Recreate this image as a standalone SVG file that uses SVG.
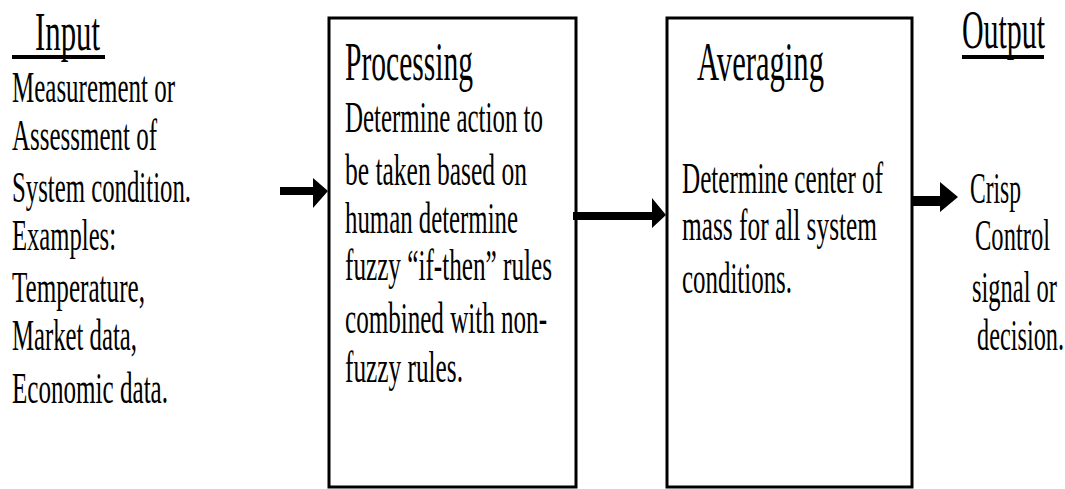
<svg xmlns="http://www.w3.org/2000/svg" width="1065" height="489" viewBox="0 0 1065 489">
<style>
text{font-family:"Liberation Serif","Times New Roman",serif;fill:#000}
.h{font-size:54px}
.b{font-size:44px}
.box{fill:none;stroke:#000;stroke-width:3}
.ul{stroke:#000;stroke-width:4}
.conn{fill:#000;stroke:none}
</style>
<rect width="1065" height="489" fill="#fff"/>
<g id="input">
<text class="h" x="35" y="50" textLength="65" lengthAdjust="spacingAndGlyphs">Input</text>
<line class="ul" x1="12" y1="57" x2="105" y2="57"/>
<text class="b" x="12" y="102" textLength="163" lengthAdjust="spacingAndGlyphs">Measurement or</text>
<text class="b" x="12" y="150" textLength="145" lengthAdjust="spacingAndGlyphs">Assessment of</text>
<text class="b" x="12" y="202" textLength="179" lengthAdjust="spacingAndGlyphs">System condition.</text>
<text class="b" x="12" y="250" textLength="104" lengthAdjust="spacingAndGlyphs">Examples:</text>
<text class="b" x="12" y="302" textLength="133" lengthAdjust="spacingAndGlyphs">Temperature,</text>
<text class="b" x="12" y="350" textLength="125" lengthAdjust="spacingAndGlyphs">Market data,</text>
<text class="b" x="12" y="403" textLength="156" lengthAdjust="spacingAndGlyphs">Economic data.</text>
</g>
<g id="processing">
<rect class="box" x="329" y="18" width="247" height="469"/>
<text class="h" x="345" y="80" textLength="128" lengthAdjust="spacingAndGlyphs">Processing</text>
<text class="b" x="345" y="132" textLength="198" lengthAdjust="spacingAndGlyphs">Determine action to</text>
<text class="b" x="345" y="185" textLength="182" lengthAdjust="spacingAndGlyphs">be taken based on</text>
<text class="b" x="345" y="233" textLength="173" lengthAdjust="spacingAndGlyphs">human determine</text>
<text class="b" x="345" y="280" textLength="207" lengthAdjust="spacingAndGlyphs">fuzzy “if-then” rules</text>
<text class="b" x="345" y="333" textLength="202" lengthAdjust="spacingAndGlyphs">combined with non-</text>
<text class="b" x="345" y="382" textLength="118" lengthAdjust="spacingAndGlyphs">fuzzy rules.</text>
</g>
<g id="averaging">
<rect class="box" x="667" y="18" width="245" height="469"/>
<text class="h" x="697" y="80" textLength="127" lengthAdjust="spacingAndGlyphs">Averaging</text>
<text class="b" x="682" y="193" textLength="201" lengthAdjust="spacingAndGlyphs">Determine center of</text>
<text class="b" x="682" y="240" textLength="195" lengthAdjust="spacingAndGlyphs">mass for all system</text>
<text class="b" x="682" y="293" textLength="110" lengthAdjust="spacingAndGlyphs">conditions.</text>
</g>
<g id="output">
<text class="h" x="962" y="48" textLength="83" lengthAdjust="spacingAndGlyphs">Output</text>
<line class="ul" x1="962" y1="57" x2="1044" y2="57"/>
<text class="b" x="970" y="203" textLength="51" lengthAdjust="spacingAndGlyphs">Crisp</text>
<text class="b" x="975" y="250" textLength="75" lengthAdjust="spacingAndGlyphs">Control</text>
<text class="b" x="972" y="302" textLength="85" lengthAdjust="spacingAndGlyphs">signal or</text>
<text class="b" x="977" y="350" textLength="87" lengthAdjust="spacingAndGlyphs">decision.</text>
</g>
<g id="connectors">
<polygon class="conn" points="280,187 313,187 313,178 328,191 313,208 313,195 280,195"/>
<polygon class="conn" points="573,212 652,212 652,198 666,215 652,228 652,220 573,220"/>
<polygon class="conn" points="913,196 940,196 940,182 958,197 940,212 940,206 913,206"/>
</g>
</svg>
